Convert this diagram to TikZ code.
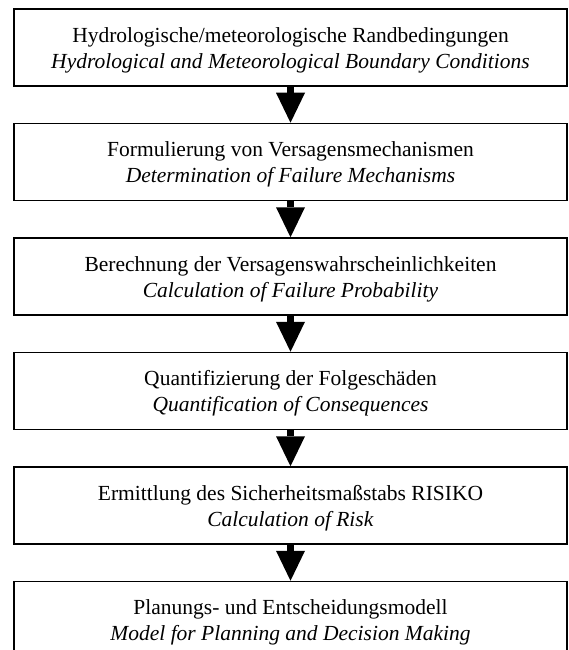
\documentclass[tikz,border=0pt]{standalone}
\usepackage{fontspec}
\setmainfont{Liberation Serif}
\usepackage{tikz}
\usetikzlibrary{arrows.meta,positioning}

\tikzset{
  stage/.style={draw, line width=1.5pt, minimum width=553pt, minimum height=77pt,
    inner sep=0pt, align=center, text height=46.5pt, font=\fontsize{21.5}{26}\selectfont},
  bigarrow/.style={line width=7pt, -{Triangle[width=29pt,length=30pt,line width=0pt]}}
}

\begin{document}
\begin{tikzpicture}[x=1pt, y=1pt]
  \useasboundingbox (0,0) rectangle (568,-650);
  \node[stage] (s1) at (290.5,-47.5) {Hydrologische/meteorologische Randbedingungen\\
    \textit{Hydrological and Meteorological Boundary Conditions}};
  \node[stage, below=36pt of s1] (s2) {Formulierung von Versagensmechanismen\\
    \textit{Determination of Failure Mechanisms}};
  \node[stage, below=36pt of s2] (s3) {Berechnung der Versagenswahrscheinlichkeiten\\
    \textit{Calculation of Failure Probability}};
  \node[stage, below=36pt of s3] (s4) {Quantifizierung der Folgeschäden\\
    \textit{Quantification of Consequences}};
  \node[stage, below=36pt of s4] (s5) {Ermittlung des Sicherheitsmaßstabs RISIKO\\
    \textit{Calculation of Risk}};
  \node[stage, below=36pt of s5] (s6) {Planungs- und Entscheidungsmodell\\
    \textit{Model for Planning and Decision Making}};
  \foreach \a/\b in {1/2,2/3,3/4,4/5,5/6} {
    \draw[bigarrow] (s\a) -- (s\b);
  }
\end{tikzpicture}
\end{document}
